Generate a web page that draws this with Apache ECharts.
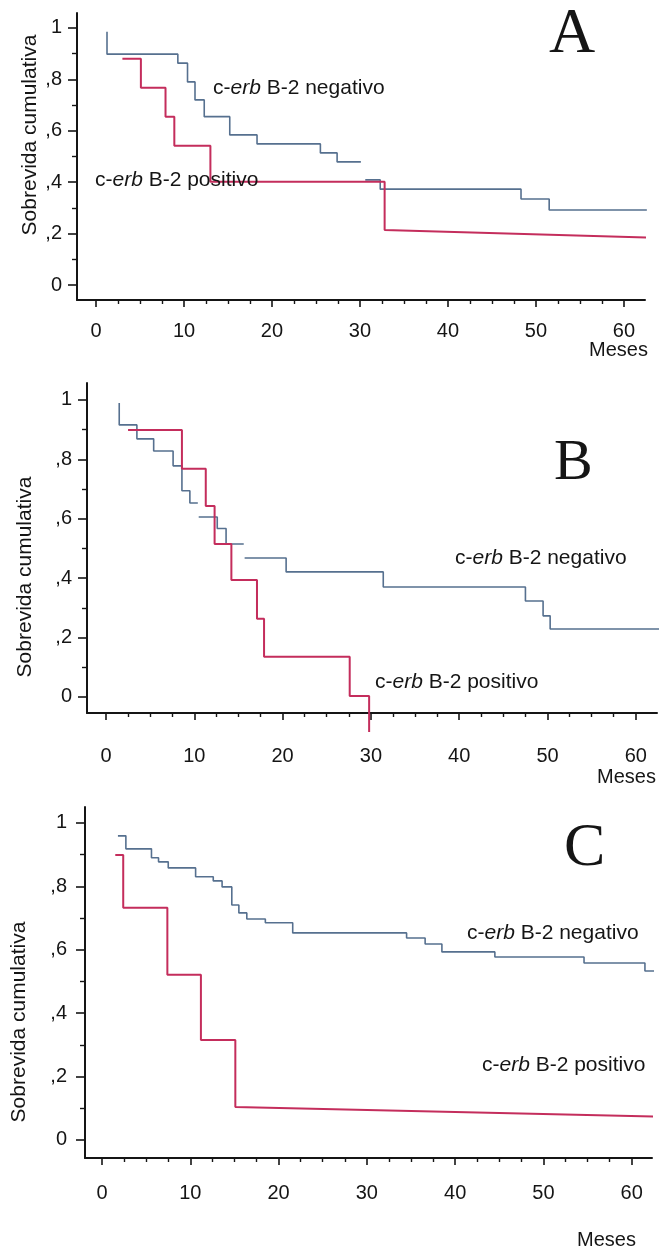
<!DOCTYPE html>
<html><head><meta charset="utf-8">
<script src="https://cdn.jsdelivr.net/npm/echarts@6/dist/echarts.min.js"></script>
<style>html,body{margin:0;padding:0;background:#fff}#c{width:664px;height:1249px}</style>
</head><body><div id="c"></div>
<script>
// ---- Data (time in months, cumulative survival) ----
// Panel A
const aNegT = [1.25, 1.25, 9.3, 10.4, 11.25, 12.3, 15.2, 18.3, 25.5, 27.4, 30.1, 30.6, 32.3, 48.3, 51.5, 62.6];
const aNegS = [0.985, 0.898, 0.863, 0.79, 0.72, 0.655, 0.584, 0.549, 0.514, 0.479, null, 0.409, 0.373, 0.335, 0.292];
const aPosT = [3.0, 5.1, 7.9, 8.9, 13.0, 32.8, 64.5];
const aPosS = [0.88, 0.767, 0.655, 0.542, 0.402, 0.214];
const aPosTail = 0.183;
// Panel B
const bNegT = [1.5, 1.5, 3.5, 5.4, 7.6, 8.6, 9.5, 10.4, 10.5, 12.6, 13.6, 15.6, 15.7, 20.4, 31.4, 47.5, 49.5, 50.3, 62.7];
const bNegS = [0.99, 0.916, 0.869, 0.828, 0.778, 0.694, 0.653, null, 0.606, 0.567, 0.515, null, 0.468, 0.421, 0.37, 0.323, 0.273, 0.229];
const bPosT = [2.5, 8.6, 11.3, 12.3, 14.2, 17.1, 17.9, 27.6, 29.8, 29.8];
const bPosS = [0.899, 0.768, 0.643, 0.515, 0.394, 0.263, 0.135, 0.003, -0.118];
// Panel C
const cNegT = [1.8, 2.7, 5.6, 6.4, 7.5, 10.6, 12.6, 13.6, 14.7, 15.5, 16.4, 18.5, 21.6, 34.5, 36.6, 38.5, 44.5, 54.6, 61.5, 62.9];
const cNegS = [0.959, 0.918, 0.89, 0.877, 0.858, 0.83, 0.817, 0.798, 0.741, 0.716, 0.697, 0.685, 0.653, 0.637, 0.618, 0.593, 0.577, 0.558, 0.533];
const cPosT = [1.5, 2.4, 7.4, 11.2, 15.1, 63.2];
const cPosS = [0.899, 0.732, 0.521, 0.315, 0.104];
const cPosTail = 0.073;

// Ticks & labels
const xMajorTicks = [0, 10, 20, 30, 40, 50, 60];
const xMinorTicks = [2.5, 5, 7.5, 12.5, 15, 17.5, 22.5, 25, 27.5, 32.5, 35, 37.5, 42.5, 45, 47.5, 52.5, 55, 57.5, 62.5];
const yMajorTicks = [0, 0.2, 0.4, 0.6, 0.8, 1];
const yMinorTicks = [0.1, 0.3, 0.5, 0.7, 0.9];
const yTickLabels = ['0', ',2', ',4', ',6', ',8', '1'];
const panelLetters = ['A', 'B', 'C'];
const yName = 'Sobrevida cumulativa';
const xName = 'Meses';
const negLabel = ['c-', 'erb', ' B-2 negativo'];
const posLabel = ['c-', 'erb', ' B-2 positivo'];

// ---- Helpers ----
const SANS = '"Liberation Sans", Arial, sans-serif';
const SERIF = '"Liberation Serif", "Times New Roman", serif';
const INK = '#151515';
const BLUE = '#56708f';
const RED = '#c42d5c';

function steps(t, s, tail) {
  const pts = [];
  for (let i = 0; i < s.length; i++) {
    if (s[i] === null) { pts.push([t[i], '-']); continue; }
    const endV = (i === s.length - 1 && tail != null) ? tail : s[i];
    pts.push([t[i], s[i]]);
    pts.push([t[i + 1], endV]);
  }
  return pts;
}
function yFmt(v) {
  for (let i = 0; i < yMajorTicks.length; i++) if (Math.abs(v - yMajorTicks[i]) < 1e-6) return yTickLabels[i];
  return '';
}

const panels = [
  { grid: { left: 77, top: 13, width: 568, height: 287 }, x: [-2.16, 62.39], y: [-0.058, 1.058], xm: 21, ym: 15, ypad: 4,
    neg: steps(aNegT, aNegS), pos: steps(aPosT, aPosS, aPosTail) },
  { grid: { left: 87, top: 383, width: 570, height: 330 }, x: [-2.15, 62.4], y: [-0.054, 1.057], xm: 33, ym: 15, ypad: 8,
    neg: steps(bNegT, bNegS), pos: steps(bPosT, bPosS) },
  { grid: { left: 85, top: 807, width: 567, height: 351 }, x: [-1.93, 62.3], y: [-0.057, 1.05], xm: 25, ym: 18, ypad: 12,
    neg: steps(cNegT, cNegS), pos: steps(cPosT, cPosS, cPosTail) }
];

const grid = [], xAxis = [], yAxis = [], series = [];
panels.forEach((p, g) => {
  grid.push(Object.assign({ containLabel: false }, p.grid));
  const lineS = { color: INK, width: 2 };
  xAxis.push({ type: 'value', gridIndex: g, min: p.x[0], max: p.x[1], position: 'bottom',
    axisLine: { show: true, onZero: false, lineStyle: lineS },
    axisTick: { show: true, length: 7, customValues: xMajorTicks, lineStyle: { color: INK, width: 1.6 } },
    axisLabel: { customValues: xMajorTicks, margin: p.xm, fontSize: 20, fontFamily: SANS, color: INK },
    splitLine: { show: false } });
  xAxis.push({ type: 'value', gridIndex: g, min: p.x[0], max: p.x[1], position: 'bottom',
    axisLine: { show: false, onZero: false },
    axisTick: { show: true, length: 4, customValues: xMinorTicks, lineStyle: { color: INK, width: 1.4 } },
    axisLabel: { show: false }, splitLine: { show: false } });
  yAxis.push({ type: 'value', gridIndex: g, min: p.y[0], max: p.y[1], position: 'left',
    axisLine: { show: true, onZero: false, lineStyle: lineS },
    axisTick: { show: true, length: 9, customValues: yMajorTicks, lineStyle: { color: INK, width: 1.6 } },
    axisLabel: { customValues: yMajorTicks, formatter: yFmt, margin: p.ym, fontSize: 20, fontFamily: SANS, color: INK,
      padding: [p.ypad, 0, 0, 0] },
    splitLine: { show: false } });
  yAxis.push({ type: 'value', gridIndex: g, min: p.y[0], max: p.y[1], position: 'left',
    axisLine: { show: false, onZero: false },
    axisTick: { show: true, length: 5, customValues: yMinorTicks, lineStyle: { color: INK, width: 1.4 } },
    axisLabel: { show: false }, splitLine: { show: false } });
  series.push({ type: 'line', xAxisIndex: 2 * g, yAxisIndex: 2 * g, data: p.neg, symbol: 'none', clip: false,
    connectNulls: false, lineStyle: { color: BLUE, width: 1.6 }, animation: false, silent: true });
  series.push({ type: 'line', xAxisIndex: 2 * g, yAxisIndex: 2 * g, data: p.pos, symbol: 'none', clip: false,
    connectNulls: false, lineStyle: { color: RED, width: 2 }, animation: false, silent: true });
});

const rich = {
  n: { fontSize: 21, fontFamily: SANS, color: INK, fontWeight: 'normal', lineHeight: 24 },
  i: { fontSize: 21, fontFamily: SANS, color: INK, fontWeight: 'normal', fontStyle: 'italic', lineHeight: 24 }
};
function lab(parts, left, top) {
  return { text: '{n|' + parts[0] + '}{i|' + parts[1] + '}{n|' + parts[2] + '}', left: left, top: top, padding: 0,
    textStyle: { fontWeight: 'normal', rich: rich } };
}
function plain(txt, left, top, size, fam) {
  return { text: txt, left: left, top: top, padding: 0,
    textStyle: { fontSize: size, fontFamily: fam, color: INK, fontWeight: 'normal', lineHeight: size } };
}

const title = [
  lab(negLabel, 213, 76), lab(posLabel, 95, 168),
  lab(negLabel, 455, 546), lab(posLabel, 375, 670),
  lab(negLabel, 467, 921), lab(posLabel, 482, 1053),
  plain(panelLetters[0], 549, 3, 64, SERIF),
  plain(panelLetters[1], 554, 435, 58, SERIF),
  plain(panelLetters[2], 564, 818, 62, SERIF),
  plain(xName, 589, 340, 20, SANS),
  plain(xName, 597, 767, 20, SANS),
  plain(xName, 577, 1230, 20, SANS)
];

const graphic = [[30, 135], [25, 577], [19, 1022]].map(c => ({
  type: 'text', x: c[0], y: c[1], rotation: Math.PI / 2,
  style: { text: yName, font: '21px ' + SANS, fill: INK, textAlign: 'center', textVerticalAlign: 'middle' }
}));

const chart = echarts.init(document.getElementById('c'), null, { renderer: 'canvas' });
chart.setOption({ backgroundColor: '#ffffff', animation: false, title, grid, xAxis, yAxis, series, graphic });
</script></body></html>
